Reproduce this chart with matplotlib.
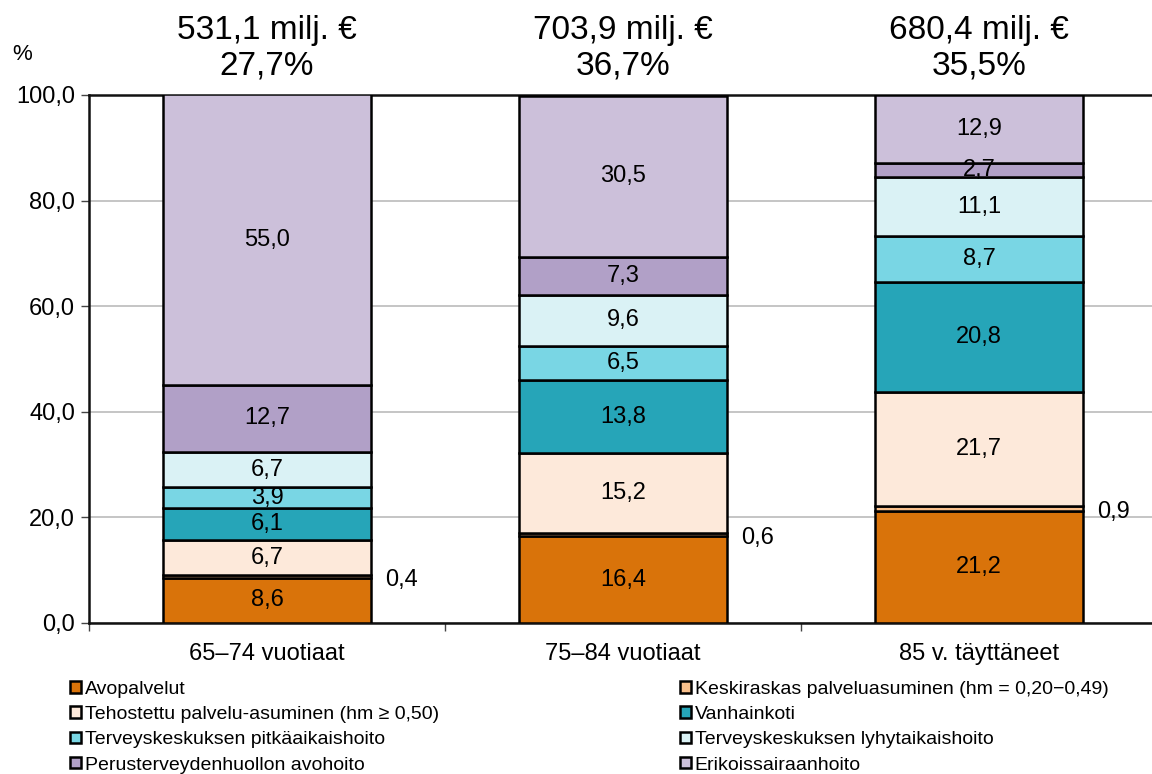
import matplotlib
matplotlib.use("Agg")
import matplotlib.pyplot as plt
from matplotlib.patches import Patch
import numpy as np

plt.rcParams['font.family'] = ['Liberation Sans', 'DejaVu Sans']

categories = ["65–74 vuotiaat", "75–84 vuotiaat", "85 v. täyttäneet"]
header_eur = ["531,1 milj. €", "703,9 milj. €", "680,4 milj. €"]
header_pct = ["27,7%", "36,7%", "35,5%"]

series_names = [
    "Avopalvelut",
    "Keskiraskas palveluasuminen (hm = 0,20−0,49)",
    "Tehostettu palvelu-asuminen (hm ≥ 0,50)",
    "Vanhainkoti",
    "Terveyskeskuksen pitkäaikaishoito",
    "Terveyskeskuksen lyhytaikaishoito",
    "Perusterveydenhuollon avohoito",
    "Erikoissairaanhoito",
]
avopalvelut = [8.6, 16.4, 21.2]
keskiraskas = [0.4, 0.6, 0.9]
tehostettu = [6.7, 15.2, 21.7]
vanhainkoti = [6.1, 13.8, 20.8]
tk_pitka = [3.9, 6.5, 8.7]
tk_lyhyt = [6.7, 9.6, 11.1]
perus_avo = [12.7, 7.3, 2.7]
erikois = [55.0, 30.5, 12.9]
series = [avopalvelut, keskiraskas, tehostettu, vanhainkoti,
          tk_pitka, tk_lyhyt, perus_avo, erikois]
colors = ["#D9730A", "#F9C08C", "#FDE9DA", "#26A5B8",
          "#79D6E4", "#DAF2F5", "#B1A0C7", "#CCC0DA"]
yticks = [0, 20, 40, 60, 80, 100]

fig = plt.figure(figsize=(11.52, 7.74), dpi=100)
ax = fig.add_axes([89/1152, 1 - 623/774, 1068/1152, 528/774])

x = np.arange(len(categories))
bw = 0.584
bottom = np.zeros(len(categories))
for i, (vals, col) in enumerate(zip(series, colors)):
    vals = np.array(vals)
    ax.bar(x, vals, bw, bottom=bottom, color=col, edgecolor="black",
           linewidth=1.8, zorder=3)
    for j in range(len(x)):
        lab = f"{vals[j]:.1f}".replace(".", ",")
        if i == 1:
            ax.text(x[j] + bw/2 + 0.04, bottom[j] + vals[j]/2 - 0.6, lab,
                    ha="left", va="center", fontsize=17, zorder=5)
        else:
            ax.text(x[j], bottom[j] + vals[j]/2, lab, ha="center",
                    va="center", fontsize=17, zorder=5)
    bottom += vals

ax.set_xlim(-0.5, 2.5)
ax.set_ylim(0, 100)
ax.set_yticks(yticks)
ax.set_yticklabels([f"{v:.1f}".replace(".", ",") for v in yticks], fontsize=17)
ax.set_xticks([-0.5, 0.5, 1.5])
ax.set_xticklabels([])
ax.tick_params(axis="x", length=6, width=1, color="#444444", direction="out")
ax.tick_params(axis="y", length=6, width=1, color="#444444", direction="out",
               pad=4)
for j, c in enumerate(categories):
    ax.text(x[j], -3.8, c, ha="center", va="top", fontsize=17)
ax.grid(axis="y", color="#BBBBBB", linewidth=1.2, zorder=0)
for s in ["left", "bottom", "top"]:
    ax.spines[s].set_color("#111111")
    ax.spines[s].set_linewidth(1.8)
ax.spines["right"].set_visible(False)

for j in range(len(x)):
    ax.text(x[j], 112.3, header_eur[j], ha="center", va="center",
            fontsize=24, clip_on=False)
    ax.text(x[j], 105.5, header_pct[j], ha="center", va="center",
            fontsize=24, clip_on=False)
fig.text(22/1152, 1 - 55/774, "%", ha="center", va="center", fontsize=16)

handles = [Patch(facecolor=c, edgecolor="black", linewidth=1.8) for c in colors]
left_idx = [0, 2, 4, 6]
right_idx = [1, 3, 5, 7]
kw = dict(frameon=False, fontsize=14, handlelength=0.55, handleheight=0.55,
          handletextpad=0.2, labelspacing=0.42, borderaxespad=0, borderpad=0)
fig.legend([handles[i] for i in left_idx], [series_names[i] for i in left_idx],
           loc="upper left", bbox_to_anchor=(70/1152, 1 - 681/774), **kw)
fig.legend([handles[i] for i in right_idx], [series_names[i] for i in right_idx],
           loc="upper left", bbox_to_anchor=(680/1152, 1 - 681/774), **kw)

fig.savefig("out.png", dpi=100)
